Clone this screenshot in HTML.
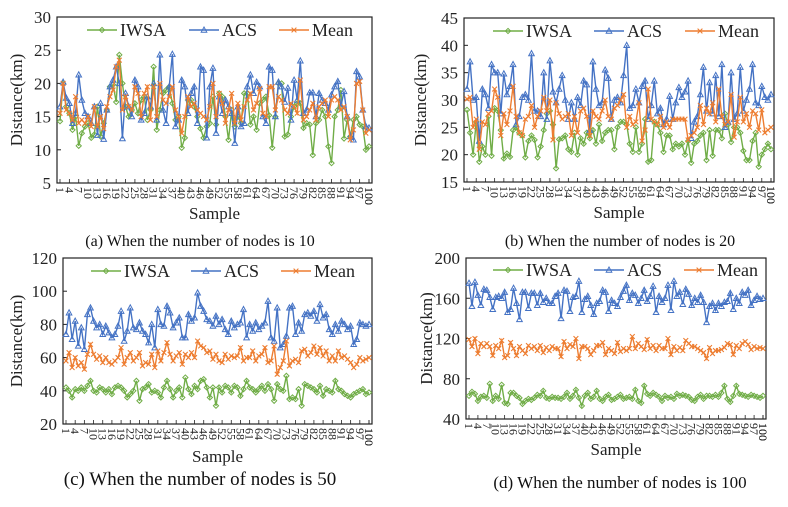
<!DOCTYPE html>
<html><head><meta charset="utf-8">
<style>
html,body{margin:0;padding:0;background:#fff;}
svg, svg text{font-family:"Liberation Serif","Times New Roman",serif;}
</style></head>
<body>
<svg id="fig" width="788" height="502" viewBox="0 0 788 502" xmlns="http://www.w3.org/2000/svg" font-family="Liberation Serif, serif"></svg>
<script>
// ---------- Panel (a): 10 nodes ----------
const aIWSA=[14.3,20,16.5,15.5,13,15,10.6,12.5,13.5,14,11.8,12.3,16.5,12,14,16,19.5,19.8,17.2,24.3,20,16.5,15,16,17,15.5,17.5,18,14.5,16,22.5,13,16,18.5,19,19.5,17,14.5,15,10.3,11.8,17.5,17.5,16.5,15,13.2,11.8,13.5,14,18,13.8,18.5,18,15,11.5,16,13.5,15,14,18.5,18.5,13.8,15,13,17,17.5,18,15.2,10.3,15,20,20,12,12.3,15,16.5,17,17,13.3,14,13.8,9.2,14,14.5,16,15,10.5,8,15,16,19,11.7,14.5,12,14.5,15,13.8,13.5,10,10.5];
const aACS=[16.5,20.2,17.8,17,14,15.5,21.3,17.5,15.5,15,14,16.5,12.2,17,11.6,16,19.5,20.5,22.5,20,11.7,18.5,16.5,15,20.5,19.5,14.5,15.5,18,16.5,20,14.5,24.3,16,14,19.5,24.4,13.5,14.5,20.5,19.5,15.5,18.5,19.5,14,22.5,22,11.8,19.5,22.3,12.5,18,15.5,17.5,16.5,15.5,11,16.5,13.5,14,19.5,21.3,18.5,20.2,19.5,15,14,22.5,22,15,20.2,19.5,17.2,19.3,14.5,20.5,17.5,23.4,15.5,16,18.6,18.6,15,18.5,17.5,17,16,18.3,19.5,20.3,16.5,18.8,15,12,11.5,21.8,21,16,13.5,13.3];
const aMean=[15.5,20,16,15.5,14.5,18,14,14.5,14,15,13.5,16.5,13.5,15,13.2,16.5,18,19,22.5,23.5,16,18,16.5,16,19.5,18.5,15,18.5,19.5,14.5,19.5,15,20,17.5,17,18,19.5,16,15,12.5,15,18,16.5,17,16,15.5,15,14.5,16.5,20,15,18.5,17,14,16,18.5,14,17,14.5,16.5,17.5,18.5,16,17,19.2,15.5,15,19.5,19.5,16,18,17.5,16,15.5,17,16.5,15.5,20.5,14.5,15,16,17,14.5,16.5,17,17.5,15,17.5,18,17.5,16,16.5,15,11.5,13,20,20.3,16,12.5,13];
// ---------- Panel (b): 20 nodes ----------
const bIWSA=[28.2,24,20,26,18.7,21.5,20,27,19.8,28.5,28,24.5,19.3,20.2,19.6,24.5,25,24,23.5,19.5,22.5,23.5,22.7,19.5,21.5,24.5,27.5,28,25.5,17.5,22.8,23,23.5,21,20.5,24,20,23,22,24,23,24.5,22,25.5,22.5,24,24.5,24.5,21,25,26,26,25.5,22,20.5,25,20.5,22,26.5,18.7,19,26,25.5,24,20.5,23.5,23.5,21,22,21.5,22,20,22.5,18.5,22,22.5,23.5,24,19,24.5,19.8,24.5,24.5,23,27.5,25.5,22.3,25,25,24,20.7,19,19,22.5,24,17.8,20,21,22,21];
const bACS=[32,37,30,30.5,22.5,32,31,28.5,36.5,35,35,27.5,34.8,31,32.5,36.5,25.5,27,30.5,31,30,38.5,28,28,27,35,26.5,37.2,31.5,29.5,32,34.5,30,26.5,29.5,26.5,30.5,29,33.5,32.8,24.5,37,32,29,29.5,35.5,34,26.5,30,30.5,29.5,34.5,40,28.5,29,32,29.5,32.5,33.5,26.5,29,33.5,27.5,28.5,25.5,26.5,30.7,26.5,29.5,32.3,30.5,31.5,33.5,23,26,27,31,36,28,33.2,27.5,34.5,27,36.5,25,26,35,26.5,27.5,36,28,30,32,36.5,29.5,29,32.5,30.5,30,31];
const bMean=[30.2,30.5,25,26.5,21,26,25.5,27.5,28,32,30.5,23.5,27.5,25.5,28,32.5,27,24,23.5,26.5,27,29,25,27,28,30.5,28,30,22.7,29.5,27.5,26.5,27,27.5,23.5,27,24,28,28.5,27,23.5,28,27,26.5,28,30,27,26.5,28.5,29,30,31,25,27,25.5,26,29.5,22.5,24.5,32,26.5,26,25.5,27,25,26,25,26.5,26.5,26.5,26.5,26.5,22.7,23.5,24,25,29,25.5,28.5,27.5,29.5,26,32,27,25.5,26,31,23.2,26,30.5,26,27.5,25,28,27.5,24.5,28.2,24,24.5,25];
// ---------- Panel (c): 50 nodes ----------
const cIWSA=[42,40,36,41,40,42,40,43,46,40,39,42,41,39,41,38,42,43,42,40,36,38,40,46,34,41,42,44,39,40,39,36,42,46,41,36,40,42,36,48,41,38,43,41,46,47,42,36,42,31,42,39,43,42,39,43,42,37,41,46,42,41,39,41,43,40,44,41,34,44,41,40,49,35,36,35,41,31,44,43,42,41,39,43,37,41,40,39,46,41,40,38,37,36,38,39,40,41,38,39];
const cACS=[74,87,71,82,67,78,65,86,90,82,78,80,74,79,75,72,74,79,88,70,76,90,78,77,81,76,74,69,80,66,89,80,79,91,87,78,81,84,72,72,86,82,84,99,91,88,83,82,79,85,80,83,77,74,82,78,80,81,89,72,80,76,81,77,79,81,94,72,70,90,66,68,73,90,91,74,81,76,86,87,85,88,82,92,84,86,77,74,80,76,82,80,77,79,68,71,81,80,79,80];
const cMean=[58,63,54,60,55,57,53,62,68,62,59,61,57,60,57,56,58,60,66,56,60,63,58,60,63,55,57,56,62,54,64,58,63,69,62,58,61,63,56,62,60,63,60,70,67,66,63,64,59,62,58,57,62,59,61,60,61,66,58,60,60,64,58,61,62,66,57,58,67,50,54,58,70,55,58,59,57,64,65,61,63,67,62,66,61,64,58,61,58,64,60,61,59,57,54,56,60,58,59,60];
// ---------- Panel (d): 100 nodes ----------
const dIWSA=[63,67,65,58,62,63,61,75,58,63,60,74,56,55,66,66,63,61,55,58,60,59,61,64,63,68,61,60,62,61,61,60,62,66,60,63,69,61,53,63,66,60,62,68,60,58,62,64,59,60,62,64,60,61,62,60,69,58,56,73,65,63,66,64,62,58,63,61,62,60,65,63,64,63,62,59,58,62,64,60,63,63,62,64,62,66,73,60,57,63,73,65,64,63,62,64,63,62,61,63];
const dACS=[175,152,176,163,153,169,168,161,149,161,162,160,166,146,149,170,155,139,166,166,150,165,165,153,165,156,160,155,155,162,165,140,168,167,147,161,162,177,146,159,162,153,144,155,157,168,166,147,158,155,152,161,167,173,158,165,163,155,160,168,157,162,172,146,162,156,160,173,148,177,162,166,154,169,164,153,160,156,163,156,136,152,155,148,155,152,156,157,165,149,160,155,166,163,168,153,158,162,159,160];
const dMean=[119,112,120,105,115,112,115,112,103,113,110,118,101,103,116,110,103,112,108,105,113,110,112,108,113,106,111,108,112,110,110,102,117,110,114,112,120,100,112,112,110,104,108,113,113,116,104,110,108,105,116,107,110,108,110,122,110,115,112,109,119,110,113,108,113,110,110,120,104,112,108,111,108,118,115,112,112,110,108,106,100,111,105,108,108,109,111,115,114,104,113,110,115,117,114,109,112,110,111,110];
const xTickLabels=[]; for(let i=1;i<=100;i+=3) xTickLabels.push(i); xTickLabels.push(100);
const aYTicks=[5,10,15,20,25,30];
const bYTicks=[15,20,25,30,35,40,45];
const cYTicks=[20,40,60,80,100,120];
const dYTicks=[40,80,120,160,200];

const NS="http://www.w3.org/2000/svg";
const FF="Liberation Serif, Times New Roman, serif";
const svg=document.getElementById('fig');
function mk(tag,attrs,parent){const e=document.createElementNS(NS,tag);for(const k in attrs)e.setAttribute(k,attrs[k]);if(tag==='text')e.setAttribute('font-family',FF);(parent||svg).appendChild(e);return e;}
const GREEN="#70AD47",BLUE="#4472C4",ORANGE="#ED7D31";

function marker(g,type,x,y,color){
  let m;
  if(type==='d'){m=mk('polygon',{points:`${x},${y-2.6} ${x+2.6},${y} ${x},${y+2.6} ${x-2.6},${y}`,fill:'none',stroke:color,'stroke-width':1},g);}
  else if(type==='t'){m=mk('polygon',{points:`${x},${y-3} ${x+2.8},${y+2.2} ${x-2.8},${y+2.2}`,fill:'none',stroke:color,'stroke-width':1},g);}
  else {m=mk('path',{d:`M${x-2.4},${y-2.4}L${x+2.4},${y+2.4}M${x-2.4},${y+2.4}L${x+2.4},${y-2.4}`,stroke:color,'stroke-width':1.1},g);}
  
  
}

function panel(cfg){
  const g=mk('g',{});
  
  
  const {L,R,T,B,yMin,yMax}=cfg;
  const y=v=>B-(v-yMin)/(yMax-yMin)*(B-T);
  const x=i=>L+3+i/99*(R-L-6);
  const fr=mk('rect',{x:L,y:T,width:R-L,height:B-T,fill:'#fff',stroke:'#222','stroke-width':1.2},g);
  
  cfg.yTicks.forEach(v=>{
    const t=mk('text',{x:L-6,y:y(v)+6,'text-anchor':'end','font-size':17,fill:'#222'},g);t.textContent=v;
    
    mk('line',{x1:L,x2:L+4,y1:y(v),y2:y(v),stroke:'#222'},g);
  });
  xTickLabels.forEach(v=>{
    const xx=x(v-1);
    mk('line',{x1:xx,x2:xx,y1:B,y2:B-4,stroke:'#222','stroke-width':0.8},g);
    const t=mk('text',{x:0,y:0,'font-size':12,fill:'#222',transform:`translate(${xx-4},${B+4}) rotate(90)`},g);t.textContent=v;
    
  });
  const yt=mk('text',{x:0,y:0,'font-size':17,fill:'#222','text-anchor':'middle',transform:`translate(${cfg.ytX},${(T+B)/2}) rotate(-90)`},g);yt.textContent='Distance(km)';
  
  const xt=mk('text',{x:(L+R)/2,y:cfg.sampleY,'font-size':17,fill:'#222','text-anchor':'middle'},g);xt.textContent='Sample';
  
  const cap=mk('text',{x:cfg.capX,y:cfg.capY,'font-size':cfg.capSize,fill:'#111','text-anchor':'middle'},g);cap.textContent=cfg.caption;
  
  const series=[[cfg.s[0],GREEN,'d','IWSA'],[cfg.s[1],BLUE,'t','ACS'],[cfg.s[2],ORANGE,'x','Mean']];
  series.forEach(([arr,col,mt,nm])=>{
    const sg=mk('g',{},g);
    
    
    const pts=arr.map((v,i)=>x(i*99/(arr.length-1)).toFixed(1)+','+y(v).toFixed(1)).join(' ');
    mk('polyline',{points:pts,fill:'none',stroke:col,'stroke-width':1.4},sg);
    arr.forEach((v,i)=>marker(sg,mt,x(i*99/(arr.length-1)),y(v),col));
  });
  const lg=mk('g',{},g);
  
  const ly=cfg.legY;
  series.forEach(([arr,col,mt,nm],k)=>{
    const lx=cfg.legX[k];
    const e=mk('g',{},lg);
    
    mk('rect',{x:lx-2,y:ly-9,width:nm.length*10+40,height:18,fill:'#fff'},e);
    mk('line',{x1:lx,x2:lx+30,y1:ly,y2:ly,stroke:col,'stroke-width':1.5},e);
    marker(e,mt,lx+15,ly,col);
    const t=mk('text',{x:lx+33,y:ly+6,'font-size':18,fill:'#222'},e);t.textContent=nm;
  });
}

panel({name:'chart-a',L:57,R:372,T:17,B:183,yMin:5,yMax:30,yTicks:aYTicks,s:[aIWSA,aACS,aMean],ytX:22,sampleY:219,capX:200,capY:246,capSize:16,caption:'(a) When the number of nodes is 10',legX:[87,189,279],legY:30});
panel({name:'chart-b',L:464,R:774,T:18,B:182,yMin:15,yMax:45,yTicks:bYTicks,s:[bIWSA,bACS,bMean],ytX:426,sampleY:218,capX:620,capY:246,capSize:16,caption:'(b) When the number of nodes is 20',legX:[493,594,685],legY:31});
panel({name:'chart-c',L:63,R:372,T:258,B:424,yMin:20,yMax:120,yTicks:cYTicks,s:[cIWSA,cACS,cMean],ytX:22,sampleY:462,capX:200,capY:485,capSize:19,caption:'(c) When the number of nodes is 50',legX:[91,191,281],legY:271});
panel({name:'chart-d',L:466,R:766,T:258,B:419,yMin:40,yMax:200,yTicks:dYTicks,s:[dIWSA,dACS,dMean],ytX:432,sampleY:455,capX:620,capY:488,capSize:17,caption:'(d) When the number of nodes is 100',legX:[493,594,684],legY:270});
</script>
</body></html>
